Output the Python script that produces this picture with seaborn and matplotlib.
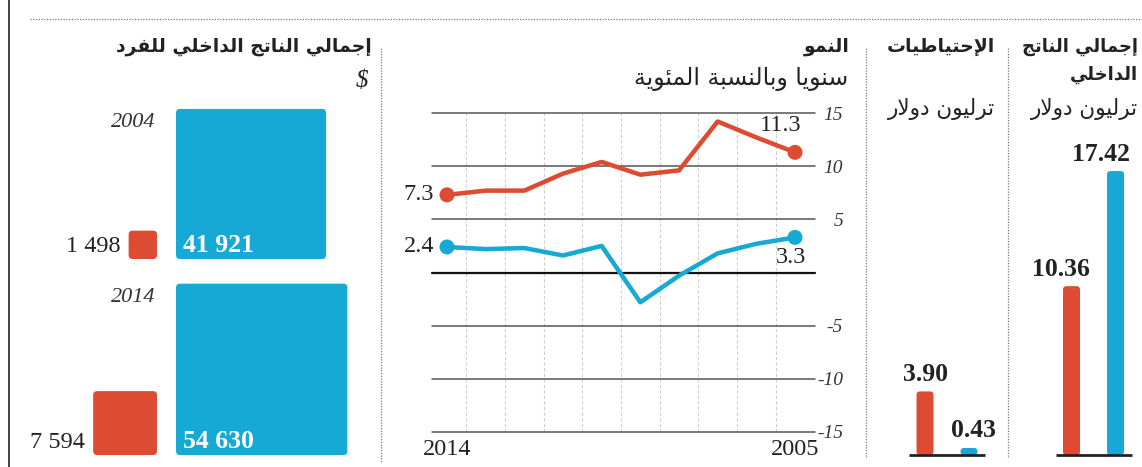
import numpy as np
import pandas as pd
import matplotlib
matplotlib.use('Agg')
import matplotlib.pyplot as plt
import seaborn as sns
from matplotlib.patches import FancyBboxPatch
from matplotlib.lines import Line2D

# ---------------- data ----------------
countries = ['China', 'US']

pc_years = ['2004', '2014']
pc_china = [1498, 7594]
pc_us = [41921, 54630]
pc_china_labels = ['1 498', '7 594']
pc_us_labels = ['41 921', '54 630']

growth_years = [2005, 2006, 2007, 2008, 2009, 2010, 2011, 2012, 2013, 2014]
growth_china = [11.3, 12.7, 14.2, 9.6, 9.2, 10.4, 9.3, 7.7, 7.7, 7.3]
growth_us = [3.3, 2.7, 1.8, -0.3, -2.8, 2.5, 1.6, 2.3, 2.2, 2.4]
growth_ticks = [-15, -10, -5, 0, 5, 10, 15]
growth_ticklabels = ['-15', '-10', '-5', '', '5', '10', '15']

reserves = [3.90, 0.43]
gdp = [10.36, 17.42]

title_pc = 'إجمالي الناتج الداخلي للفرد'
unit_pc = '$'
title_growth = 'النمو'
unit_growth = 'سنويا وبالنسبة المئوية'
title_res = 'الإحتياطيات'
title_gdp = ['إجمالي الناتج', 'الداخلي']
unit_tr = 'ترليون دولار'

# ---------------- Arabic shaping (presentation forms + visual order) ----------------
_letters = "ءآأؤإئابةتثجحخدذرزسشصضطظعغفقكلمنهوىي"
_counts = [1, 2, 2, 2, 2, 4, 2, 4, 2, 4, 4, 4, 4, 4, 2, 2, 2, 2, 4, 4, 4, 4, 4, 4,
           4, 4, 4, 4, 4, 4, 4, 4, 4, 2, 2, 4]
_forms = {}
_c = 0xFE80
for _ch, _n in zip(_letters, _counts):
    _forms[_ch] = [_c + i for i in range(_n)]
    _c += _n
_lamalef = {'آ': 0xFEF5, 'أ': 0xFEF7, 'إ': 0xFEF9, 'ا': 0xFEFB}


def shape(text):
    toks = []
    i = 0
    while i < len(text):
        ch = text[i]
        if ch == 'ل' and i + 1 < len(text) and text[i + 1] in _lamalef:
            b = _lamalef[text[i + 1]]
            toks.append([b, b + 1])
            i += 2
        elif ch in _forms:
            toks.append(_forms[ch])
            i += 1
        else:
            toks.append(ch)
            i += 1
    out = []
    for j, t in enumerate(toks):
        if isinstance(t, str):
            out.append(t)
            continue
        prev = toks[j - 1] if j > 0 else None
        nxt = toks[j + 1] if j + 1 < len(toks) else None
        jp = isinstance(prev, list) and len(prev) == 4 and len(t) >= 2
        jn = isinstance(nxt, list) and len(nxt) >= 2 and len(t) == 4
        if jp and jn:
            g = t[3]
        elif jp:
            g = t[1]
        elif jn:
            g = t[2]
        else:
            g = t[0]
        out.append(chr(g))
    return ''.join(reversed(out))


# ---------------- figure ----------------
W, H = 1142, 467
RED = '#DD4B32'
BLUE = '#17A9D5'
DARK = '#222222'
NUM = 17.5    # regular numbers
NUMB = 18.5   # bold numbers
ART = 13.5    # Arabic bold titles
ARS = 15.5    # Arabic subtitles

sns.set_theme(style='white')
plt.rcParams['font.family'] = ['Liberation Serif', 'DejaVu Serif']
plt.rcParams['axes.unicode_minus'] = False

fig = plt.figure(figsize=(W / 100, H / 100), dpi=100)
fig.patch.set_facecolor('white')
PT = 0.72  # points per pixel


def pax(x0, y0, x1, y1):
    ax = fig.add_axes([x0 / W, 1 - y1 / H, (x1 - x0) / W, (y1 - y0) / H])
    ax.set_facecolor('none')
    for sp in ax.spines.values():
        sp.set_visible(False)
    return ax


def ftext(x, y, s, **kw):
    return fig.text(x / W, 1 - y / H, s, **kw)


def fline(xs, ys, **kw):
    fig.add_artist(Line2D([x / W for x in xs], [1 - y / H for y in ys], **kw))


AR = ['DejaVu Sans']

# frame lines
fline([8.5, 8.5], [0, H], color='#333333', lw=1.3)
fline([30, W], [19, 19], color='#777777', lw=0.9, ls=(0, (1, 1.2)))
for xs, y1 in [(381, 462), (866, 458), (1008, 458)]:
    fline([xs, xs], [48, y1], color='#777777', lw=0.9, ls=(0, (1, 1.2)))

# ---------------- panel 1: GDP per capita squares ----------------
s = 0.733
ax1 = pax(20, 100, 375, 462)
xo, yo = 176, 455
ax1.set_xlim(-(xo - 20) / s, (375 - xo) / s)
ax1.set_ylim(-(462 - yo) / s, (yo - 100) / s)
ax1.axis('off')
row_bottom = [(455 - 259) / s, 0]
gap = 19 / s
rad = 4 / s
for i in range(len(pc_years)):
    b = row_bottom[i]
    su = np.sqrt(pc_us[i])
    sc = np.sqrt(pc_china[i])
    ax1.add_patch(FancyBboxPatch((0, b), su, su, boxstyle=f'round,pad=0,rounding_size={rad}',
                                 fc=BLUE, ec='none'))
    ax1.add_patch(FancyBboxPatch((-gap - sc, b), sc, sc, boxstyle=f'round,pad=0,rounding_size={rad}',
                                 fc=RED, ec='none'))
    ax1.text(-gap - 2 / s, b + su - 14 / s, pc_years[i], ha='right', va='center',
             style='italic', fontsize=16, color='#333333')
    ax1.text(-gap - sc - 8 / s, b + 7 / s, pc_china_labels[i], ha='right', va='baseline',
             fontsize=NUM, color=DARK)
    ax1.text(7 / s, b + 7 / s, pc_us_labels[i], ha='left', va='baseline',
             fontsize=NUMB, weight='bold', color='white')

ftext(372, 47, shape(title_pc), ha='right', va='center', family=AR, weight='bold',
      fontsize=ART, color=DARK)
ftext(368, 81, unit_pc, ha='right', va='center', style='italic', fontsize=18, color=DARK)

# ---------------- panel 2: growth lines ----------------
ax2 = pax(432, 113, 815, 432)
df = pd.DataFrame({
    'year': growth_years * 2,
    'growth': growth_china + growth_us,
    'country': ['China'] * len(growth_years) + ['US'] * len(growth_years),
})
sns.lineplot(data=df, x='year', y='growth', hue='country', palette=[RED, BLUE],
             linewidth=4.5 * PT, legend=False, ax=ax2, zorder=5)
ends = df[df['year'].isin([min(growth_years), max(growth_years)])]
sns.scatterplot(data=ends, x='year', y='growth', hue='country', palette=[RED, BLUE],
                s=(15 * PT) ** 2, edgecolor='none', legend=False, ax=ax2, zorder=6)
step = 38.67
ax2.set_xlim(max(growth_years) + 15 / step, min(growth_years) - 20 / step)
ax2.set_ylim(-15, 15)
for v in growth_ticks:
    ax2.axhline(v, color='#111111' if v == 0 else '#555555', lw=1.6 if v == 0 else 1.1,
                clip_on=False, zorder=2)
for xv in np.arange(min(growth_years) + 0.5, max(growth_years), 1.0):
    ax2.axvline(xv, color='#cfcfcf', lw=0.8, ls=(0, (3, 2)), zorder=1)
ax2.yaxis.tick_right()
ax2.set_yticks(growth_ticks, growth_ticklabels)
ax2.tick_params(axis='y', length=0, pad=28 * PT, labelsize=14, labelcolor='#333333')
for lb in ax2.get_yticklabels():
    lb.set_horizontalalignment('right')
    lb.set_style('italic')
ax2.set_xticks([max(growth_years), min(growth_years)],
               [str(max(growth_years)), str(min(growth_years))])
ax2.tick_params(axis='x', length=0, pad=5, labelsize=NUM, labelcolor=DARK)
ax2.set_xlabel('')
ax2.set_ylabel('')

first = max(growth_years)
last = min(growth_years)
ax2.annotate(f'{growth_china[-1]:.1f}', (first, growth_china[-1]), xytext=(-13 * PT, 0),
             textcoords='offset points', ha='right', va='center', fontsize=NUM, color=DARK)
ax2.annotate(f'{growth_us[-1]:.1f}', (first, growth_us[-1]), xytext=(-13 * PT, 0),
             textcoords='offset points', ha='right', va='center', fontsize=NUM, color=DARK)
ax2.annotate(f'{growth_china[0]:.1f}', (last, growth_china[0]), xytext=(-14 * PT, 27 * PT),
             textcoords='offset points', ha='center', va='center', fontsize=NUM, color=DARK)
ax2.annotate(f'{growth_us[0]:.1f}', (last, growth_us[0]), xytext=(-4 * PT, -20 * PT),
             textcoords='offset points', ha='center', va='center', fontsize=NUM, color=DARK)

ftext(850, 47, shape(title_growth), ha='right', va='center', family=AR, weight='bold',
      fontsize=ART, color=DARK)
ftext(848, 79, shape(unit_growth), ha='right', va='center', family=AR,
      fontsize=ARS + 1.5, color=DARK)


# ---------------- panels 3 & 4: bars ----------------
def bar_panel(x0, x1, values, dxs):
    ax = pax(x0, 129, x1, 455)
    d = pd.DataFrame({'country': countries, 'value': values})
    sns.barplot(data=d, x='country', y='value', hue='country', palette=[RED, BLUE],
                width=0.386, legend=False, ax=ax, saturation=1)
    ax.set_xlim(-0.5, 1.5)
    ax.set_ylim(0, 20)
    ax.axis('off')
    xpx = (x1 - x0) / 2.0
    ypx = 326 / 20.0
    for p, col in zip(list(ax.patches), [RED, BLUE]):
        x, y, w, h = p.get_x(), p.get_y(), p.get_width(), p.get_height()
        p.set_visible(False)
        r = 3.5 / xpx
        ax.add_patch(FancyBboxPatch((x, y), w, h, boxstyle=f'round,pad=0,rounding_size={r}',
                                    mutation_aspect=xpx / ypx, fc=col, ec='none', zorder=3))
    ax.hlines(0, -0.5 + 6 / xpx, 1.5 - 6 / xpx, color=DARK, lw=2, clip_on=False, zorder=5)
    for i, (v, dx) in enumerate(zip(values, dxs)):
        ax.annotate(f'{v:.2f}', (i, v), xytext=(dx * PT, 17 * PT), textcoords='offset points',
                    ha='center', va='center', fontsize=NUMB, weight='bold', color=DARK)
    return ax


bar_panel(903, 991, reserves, [1, 4])
bar_panel(1049.5, 1137.5, gdp, [-11, -14])

ftext(995, 47, shape(title_res), ha='right', va='center', family=AR, weight='bold',
      fontsize=ART, color=DARK)
ftext(995, 109, shape(unit_tr), ha='right', va='center', family=AR, fontsize=ARS, color=DARK)
ftext(1138, 47, shape(title_gdp[0]), ha='right', va='center', family=AR, weight='bold',
      fontsize=ART - 0.5, color=DARK)
ftext(1138, 75, shape(title_gdp[1]), ha='right', va='center', family=AR, weight='bold',
      fontsize=ART - 0.5, color=DARK)
ftext(1138, 109, shape(unit_tr), ha='right', va='center', family=AR, fontsize=ARS, color=DARK)

fig.savefig('out.png', dpi=100, facecolor='white')
